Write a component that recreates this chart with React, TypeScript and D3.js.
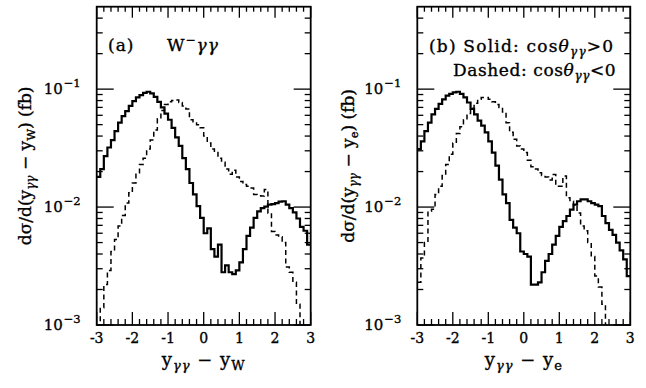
import React from "react";
import * as d3 from "d3";

// ---- data ----
const binStart = [
  -3.0, -2.9, -2.8, -2.7, -2.6, -2.5, -2.4, -2.3, -2.2, -2.1,
  -2.0, -1.9, -1.8, -1.7, -1.6, -1.5, -1.4, -1.3, -1.2, -1.1,
  -1.0, -0.9, -0.8, -0.7, -0.6, -0.5, -0.4, -0.3, -0.2, -0.1,
  0.0, 0.1, 0.2, 0.3, 0.4, 0.5, 0.6, 0.7, 0.8, 0.9,
  1.0, 1.1, 1.2, 1.3, 1.4, 1.5, 1.6, 1.7, 1.8, 1.9,
  2.0, 2.1, 2.2, 2.3, 2.4, 2.5, 2.6, 2.7, 2.8, 2.9,
];
const binEnd = 3.0;

// panel (a): y_gg - y_W
const solidA = [
  0.018, 0.021, 0.027, 0.032, 0.037, 0.044, 0.052, 0.059, 0.065, 0.072,
  0.079, 0.085, 0.089, 0.093, 0.095, 0.092, 0.086, 0.078, 0.070, 0.062,
  0.055, 0.047, 0.039, 0.033, 0.026, 0.021, 0.016, 0.0128, 0.0102, 0.0081,
  0.0060, 0.0066, 0.0044, 0.0038, 0.0048, 0.0028, 0.0032, 0.0028, 0.0027, 0.0029,
  0.0034, 0.0044, 0.0057, 0.0067, 0.0081, 0.0092, 0.0098, 0.0101, 0.0105, 0.0106,
  0.0108, 0.0111, 0.0112, 0.0105, 0.0098, 0.0090, 0.0080, 0.0068, 0.0063, 0.0048,
];
const dashedA = [
  0.0007, 0.0014, 0.0022, 0.0029, 0.0042, 0.0053, 0.0069, 0.0085, 0.0108, 0.0132,
  0.0160, 0.0195, 0.0230, 0.0260, 0.0310, 0.0370, 0.0450, 0.0560, 0.0660, 0.0740,
  0.0780, 0.0800, 0.0810, 0.0770, 0.0720, 0.0680, 0.0550, 0.0530, 0.0500, 0.0470,
  0.0400, 0.0350, 0.0310, 0.0290, 0.0260, 0.0240, 0.0210, 0.0190, 0.0205, 0.0180,
  0.0165, 0.0155, 0.0150, 0.0145, 0.0128, 0.0125, 0.0124, 0.0141, 0.0089, 0.0062,
  0.0058, 0.0056, 0.0050, 0.0031, 0.0028, 0.0023, 0.0015, 0.0005, 0.0004, 0.0003,
];

// panel (b): y_gg - y_e
const solidB = [
  0.031, 0.036, 0.044, 0.052, 0.061, 0.068, 0.075, 0.082, 0.088, 0.091,
  0.094, 0.095, 0.091, 0.085, 0.077, 0.068, 0.061, 0.054, 0.049, 0.043,
  0.036, 0.029, 0.0225, 0.0171, 0.0128, 0.0108, 0.0078, 0.0067, 0.0060, 0.0042,
  0.0040, 0.0038, 0.0022, 0.0022, 0.0023, 0.0028, 0.0035, 0.0040, 0.0048, 0.0057,
  0.0068, 0.0076, 0.0084, 0.0095, 0.0105, 0.0112, 0.0116, 0.0116, 0.0112, 0.0108,
  0.0105, 0.0102, 0.0084, 0.0073, 0.0064, 0.0058, 0.0050, 0.0043, 0.0036, 0.0026,
];
const dashedB = [
  0.0023, 0.0037, 0.0050, 0.0092, 0.0096, 0.0128, 0.0150, 0.0185, 0.0230, 0.0280,
  0.0350, 0.0420, 0.0480, 0.0550, 0.0620, 0.0690, 0.0760, 0.0820, 0.0850, 0.0850,
  0.0820, 0.0780, 0.0740, 0.0700, 0.0640, 0.0520, 0.0430, 0.0375, 0.0330, 0.0310,
  0.0290, 0.0250, 0.0220, 0.0210, 0.0195, 0.0185, 0.0180, 0.0170, 0.0189, 0.0150,
  0.0150, 0.0183, 0.0120, 0.0112, 0.0102, 0.0089, 0.0069, 0.0063, 0.0050, 0.0038,
  0.0026, 0.0021, 0.0015, 0.0005, 0.0004, 0.0004, 0.0004, 0.0004, 0.0004, 0.0004,
];

const xTickValues = [-3, -2, -1, 0, 1, 2, 3];
const xTickLabels = ["-3", "-2", "-1", "0", "1", "2", "3"];
const yDecades = [1e-3, 1e-2, 1e-1];
const yDecadeExp = ["\u22123", "\u22122", "\u22121"];
const xDomain: [number, number] = [-3, 3];
const yDomain: [number, number] = [1e-3, 0.5];

const FONT = "'DejaVu Serif', serif";
const TXT = { fontFamily: FONT, fill: "#000", stroke: "#000", strokeWidth: 0.35 } as const;

type PanelProps = {
  id: string;
  left: number;
  right: number;
  solid: number[];
  dashed: number[];
  yTitleX: number;
  sub: string;
  children?: React.ReactNode;
};

const TOP = 6.7;
const BOTTOM = 325;

function Panel({ id, left, right, solid, dashed, yTitleX, sub, children }: PanelProps) {
  const x = d3.scaleLinear().domain(xDomain).range([left, right]);
  const y = d3.scaleLog().domain(yDomain).range([BOTTOM, TOP]);
  const line = d3
    .line<[number, number]>()
    .x((d) => x(d[0]))
    .y((d) => y(Math.max(d[1], 4e-4)))
    .curve(d3.curveStepAfter);
  const pts = (vals: number[]): [number, number][] => {
    const p: [number, number][] = binStart.map((b, i) => [b, vals[i]]);
    p.push([binEnd, vals[vals.length - 1]]);
    return p;
  };
  const minorX = d3.range(-30, 31, 2).map((v) => v / 10).filter((v) => Math.abs(v - Math.round(v)) > 1e-6);
  const minorY: number[] = [];
  [1e-3, 1e-2, 1e-1].forEach((dec) => {
    for (let k = 2; k <= 9; k++) {
      const v = dec * k;
      if (v < 0.5) minorY.push(v);
    }
  });
  const cx = (left + right) / 2;
  const cy = (TOP + BOTTOM) / 2;
  return (
    <g>
      <defs>
        <clipPath id={`clip-${id}`}>
          <rect x={left} y={TOP} width={right - left} height={BOTTOM - TOP} />
        </clipPath>
      </defs>
      <g clipPath={`url(#clip-${id})`}>
        <path d={line(pts(dashed)) || ""} fill="none" stroke="#000" strokeWidth={1.5} strokeDasharray="5,3.5" />
        <path d={line(pts(solid)) || ""} fill="none" stroke="#000" strokeWidth={2.2} />
      </g>
      {/* ticks */}
      <g stroke="#000" strokeWidth={1.3}>
        {xTickValues.map((v) => (
          <g key={`mx${v}`}>
            <line x1={x(v)} x2={x(v)} y1={BOTTOM} y2={BOTTOM - 13} />
            <line x1={x(v)} x2={x(v)} y1={TOP} y2={TOP + 11} />
          </g>
        ))}
        {minorX.map((v) => (
          <g key={`nx${v}`}>
            <line x1={x(v)} x2={x(v)} y1={BOTTOM} y2={BOTTOM - 6} />
            <line x1={x(v)} x2={x(v)} y1={TOP} y2={TOP + 5} />
          </g>
        ))}
        {yDecades.map((v) => (
          <g key={`my${v}`}>
            <line x1={left} x2={left + 17} y1={y(v)} y2={y(v)} />
            <line x1={right} x2={right - 17} y1={y(v)} y2={y(v)} />
          </g>
        ))}
        {minorY.map((v) => (
          <g key={`ny${v}`}>
            <line x1={left} x2={left + 6} y1={y(v)} y2={y(v)} />
            <line x1={right} x2={right - 6} y1={y(v)} y2={y(v)} />
          </g>
        ))}
      </g>
      <rect x={left} y={TOP} width={right - left} height={BOTTOM - TOP} fill="none" stroke="#000" strokeWidth={1.8} />
      {/* x tick labels */}
      {xTickValues.map((v, i) => (
        <text key={`xl${v}`} x={x(v)} y={343} textAnchor="middle" fontSize={14} {...TXT}>
          {xTickLabels[i]}
        </text>
      ))}
      {/* y tick labels */}
      {yDecades.map((v, i) => (
        <text key={`yl${v}`} x={left - 16} y={y(v) + 5} textAnchor="end" fontSize={15} {...TXT}>
          10
          <tspan fontSize={11.5} dy={-7} dx={1}>
            {yDecadeExp[i]}
          </tspan>
        </text>
      ))}
      {/* x title */}
      <text x={cx} y={366} textAnchor="middle" fontSize={18} letterSpacing={1} {...TXT}>
        y
        <tspan fontSize={13} dy={4} fontStyle="italic">γγ</tspan>
        <tspan dy={-4}>{" \u2212  y"}</tspan>
        <tspan fontSize={13} dy={4}>{sub}</tspan>
      </text>
      {/* y title */}
      <text
        transform={`translate(${yTitleX},${cy}) rotate(-90)`}
        textAnchor="middle"
        fontSize={17}
        {...TXT}
      >
        dσ/d(y
        <tspan fontSize={12} dy={4} fontStyle="italic">γγ</tspan>
        <tspan dy={-4}>{" \u2212 y"}</tspan>
        <tspan fontSize={11.5} dy={4}>{sub}</tspan>
        <tspan dy={-4}>{") (fb)"}</tspan>
      </text>
      {children}
    </g>
  );
}

export default function App() {
  return (
    <svg
      width={646}
      height={388}
      style={{ position: "absolute", left: 0, top: 0, background: "#fff" }}
    >
      <rect width={646} height={388} fill="#fff" />
      <Panel id="a" left={96.7} right={310.7} solid={solidA} dashed={dashedA} yTitleX={31} sub="W">
        <text x={108} y={51} fontSize={17} letterSpacing={1} {...TXT}>(a)</text>
        <text x={167} y={51} fontSize={17} letterSpacing={1} {...TXT}>
          W<tspan fontSize={12} dy={-7}>{"\u2212"}</tspan>
          <tspan dy={7} fontStyle="italic">γγ</tspan>
        </text>
      </Panel>
      <Panel id="b" left={417.3} right={630.3} solid={solidB} dashed={dashedB} yTitleX={354} sub="e">
        <text x={429} y={52} fontSize={17} letterSpacing={1.2} {...TXT}>
          (b) Solid: cos<tspan fontStyle="italic">θ</tspan>
          <tspan fontSize={12} dy={4} fontStyle="italic">γγ</tspan>
          <tspan dy={-4}>{">0"}</tspan>
        </text>
        <text x={453} y={76} fontSize={17} letterSpacing={0.6} {...TXT}>
          Dashed: cos<tspan fontStyle="italic">θ</tspan>
          <tspan fontSize={12} dy={4} fontStyle="italic">γγ</tspan>
          <tspan dy={-4}>{"<0"}</tspan>
        </text>
      </Panel>
    </svg>
  );
}
